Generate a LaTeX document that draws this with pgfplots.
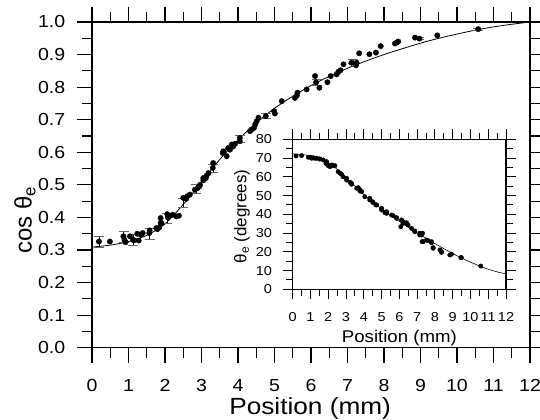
\documentclass[border=0pt]{standalone}
\usepackage{fontspec}
\setmainfont{Liberation Sans}
\usepackage{pgfplots}
\pgfplotsset{compat=1.18}

% measured data, main panel: cos(theta_e) against position
\pgfplotstableread{
x y
0.19 0.326
0.49 0.326
0.86 0.342
0.89 0.331
0.92 0.324
1.04 0.342
1.12 0.331
1.16 0.330
1.24 0.350
1.28 0.329
1.34 0.347
1.39 0.352
1.57 0.352
1.58 0.360
1.76 0.367
1.79 0.364
1.84 0.369
1.88 0.398
1.88 0.383
1.90 0.383
2.06 0.410
2.08 0.400
2.12 0.405
2.21 0.408
2.31 0.403
2.38 0.405
2.50 0.460
2.58 0.457
2.61 0.465
2.68 0.470
2.82 0.485
2.89 0.490
2.94 0.495
2.96 0.500
3.05 0.514
3.05 0.521
3.12 0.521
3.14 0.528
3.19 0.536
3.31 0.552
3.32 0.567
3.58 0.598
3.60 0.603
3.69 0.588
3.73 0.613
3.78 0.608
3.83 0.624
3.87 0.618
3.92 0.626
4.05 0.634
4.05 0.644
4.33 0.665
4.37 0.670
4.44 0.675
4.47 0.685
4.51 0.695
4.56 0.706
4.76 0.711
4.99 0.726
5.01 0.719
5.20 0.757
5.56 0.767
5.61 0.774
5.63 0.783
5.88 0.793
6.11 0.834
6.14 0.815
6.23 0.798
6.45 0.815
6.54 0.834
6.70 0.839
6.75 0.847
6.81 0.852
6.89 0.870
7.11 0.875
7.23 0.867
7.25 0.875
7.32 0.904
7.60 0.901
7.78 0.906
7.91 0.926
8.30 0.934
8.36 0.938
8.39 0.940
8.85 0.952
8.97 0.949
9.46 0.959
10.58 0.978
}\cosdata

% points that carry an error bar
\pgfplotstableread{
x y e
0.20 0.326 0.017
0.87 0.341 0.017
1.13 0.330 0.017
1.58 0.350 0.016
2.05 0.398 0.015
2.50 0.445 0.015
2.85 0.488 0.013
3.32 0.550 0.012
4.05 0.641 0.010
4.78 0.713 0.008
6.16 0.815 0.008
7.16 0.879 0.006
8.97 0.950 0.003
10.58 0.978 0.002
}\cosbars

% fitted curve, main panel
\pgfplotstableread{
x y
0 0.309
0.5 0.315
1 0.326
1.5 0.345
2 0.380
2.5 0.440
3 0.508
3.5 0.578
4 0.638
4.5 0.690
5 0.735
5.5 0.772
6 0.805
6.5 0.833
7 0.858
7.5 0.880
8 0.900
8.5 0.918
9 0.935
9.5 0.950
10 0.963
10.5 0.975
11 0.985
11.5 0.993
12 1.000
}\cosfit

% inset: theta_e in degrees
\pgfplotstableread{
x y
0.19 71.1
0.50 71.3
0.88 70.4
1.00 70.4
1.07 69.9
1.16 70.2
1.25 69.9
1.35 69.9
1.50 69.5
1.53 69.5
1.72 69.0
1.87 67.2
1.91 68.1
1.94 66.7
2.00 65.9
2.10 65.4
2.19 66.3
2.28 65.9
2.38 65.9
2.56 62.7
2.66 61.9
2.75 61.3
2.84 60.0
3.03 59.2
3.03 58.3
3.22 57.1
3.31 56.5
3.31 56.0
3.60 53.9
3.69 54.2
3.78 52.4
3.78 53.0
3.88 52.1
4.06 49.4
4.34 47.6
4.34 48.5
4.49 46.7
4.53 46.2
4.68 45.0
4.72 45.0
5.00 43.2
5.00 42.3
5.19 40.9
5.28 40.5
5.28 41.4
5.56 39.6
5.65 39.3
5.84 37.9
5.84 38.2
6.08 33.4
6.12 37.0
6.21 35.2
6.21 36.1
6.40 35.5
6.49 34.3
6.69 32.5
6.87 31.1
6.87 30.7
7.15 29.9
7.15 29.0
7.25 29.0
7.30 29.9
7.28 25.4
7.34 25.4
7.53 26.3
7.62 25.9
7.81 25.4
7.81 24.9
7.90 22.2
7.90 21.9
8.28 21.0
8.37 19.7
8.37 20.1
8.84 18.3
8.93 18.7
9.46 16.9
9.49 16.9
10.58 12.4
}\thetadata

\pgfplotstableread{
x y
0 72.2
0.5 71.9
1 71.2
1.5 69.9
2 67.6
2.5 64.0
3 59.6
3.5 55.0
4 50.5
4.5 46.5
5 42.8
5.5 39.4
6 36.2
6.5 33.1
7 30.1
7.5 27.2
8 24.4
8.5 21.7
9 19.1
9.5 16.7
10 14.5
10.5 12.5
11 10.7
11.5 9.3
12 8.2
}\thetafit

\begin{document}
\begin{tikzpicture}
% main panel
\begin{axis}[
    at={(0bp,0bp)}, anchor=south west,
    scale only axis,
    width=438bp, height=325.7bp,
    xmin=0, xmax=12, ymin=0, ymax=1,
    xtick={0,1,...,12},
    ytick={0,0.1,...,1.0},
    minor x tick num=1, minor y tick num=1,
    tick align=outside,
    major tick length=15bp, minor tick length=10bp,
    axis line style={line width=1.2pt},
    every tick/.style={line width=1.1pt, black},
    /pgf/number format/assume math mode=true,
    tick label style={font=\fontsize{17.5}{20}\selectfont, xscale=1.12},
    xticklabel style={yshift=-13bp},
    yticklabel style={xshift=-7bp, /pgf/number format/.cd, fixed, fixed zerofill, precision=1},
    xlabel={Position (mm)},
    ylabel={cos θ\textsubscript{e}},
    xlabel style={font=\fontsize{23.5}{26}\selectfont, xscale=1.12,
        at={(axis description cs:0.498,-0.2045)}, anchor=base},
    ylabel style={font=\fontsize{24}{26}\selectfont,
        at={(axis description cs:-0.153,0.392)}, anchor=center},
    clip=false,
]
\addplot[black, line width=0.8pt, smooth] table {\cosfit};
\addplot[only marks, mark=*, mark size=2.7pt, black] table {\cosdata};
\addplot[draw=none, mark=none, black,
    error bars/.cd, y dir=both, y explicit,
    error bar style={line width=0.6pt, black},
    error mark options={rotate=90, line width=0.6pt, mark size=5pt, black!60}]
    table[x=x, y=y, y error=e] {\cosbars};
\end{axis}

% inset
\begin{axis}[
    at={(200.7bp,58.4bp)}, anchor=south west,
    scale only axis,
    width=213.3bp, height=150bp,
    xmin=0, xmax=12, ymin=0, ymax=80,
    xtick={0,1,...,12},
    ytick={0,10,...,80},
    minor x tick num=1, minor y tick num=1,
    tick align=outside,
    major tick length=10bp, minor tick length=6.5bp,
    axis line style={line width=1.1pt},
    every tick/.style={line width=1pt, black},
    axis background/.style={fill=white},
    /pgf/number format/assume math mode=true,
    tick label style={font=\fontsize{13}{15}\selectfont, xscale=1.12},
    xticklabel style={yshift=-10bp},
    yticklabel style={xshift=-6bp},
    xlabel={Position (mm)},
    ylabel={θ\textsubscript{e} (degrees)},
    xlabel style={font=\fontsize{17}{19}\selectfont, xscale=1.1,
        at={(axis description cs:0.5,-0.356)}, anchor=base},
    ylabel style={font=\fontsize{17}{19}\selectfont,
        at={(axis description cs:-0.238,0.485)}, anchor=center},
    clip=false,
]
\addplot[black, line width=0.6pt, smooth] table {\thetafit};
\addplot[only marks, mark=*, mark size=2.2pt, black] table {\thetadata};
\end{axis}

\pgfresetboundingbox
\path[use as bounding box] (-92bp,-72.3bp) rectangle (448bp,347.7bp);
\end{tikzpicture}
\end{document}
